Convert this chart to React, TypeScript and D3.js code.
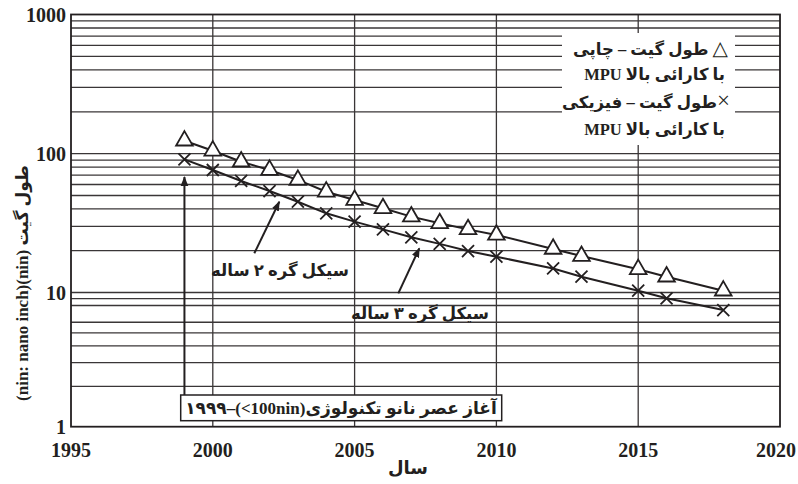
import React from "react";
import * as d3 from "d3";

// Years of the roadmap nodes
const years = [1999, 2000, 2001, 2002, 2003, 2004, 2005, 2006, 2007, 2008, 2009, 2010, 2012, 2013, 2015, 2016, 2018];
// Printed gate length (triangles)
const printedGate = [124, 105, 87.6, 76.3, 64.7, 53.2, 46.4, 40.4, 35.2, 31.5, 28.5, 26.0, 20.6, 18.3, 14.7, 13.0, 10.3];
// Physical gate length (crosses)
const physicalGate = [91.1, 76.3, 63.6, 53.8, 45.1, 37.2, 32.4, 28.5, 25.0, 22.4, 19.9, 18.1, 14.9, 13.0, 10.3, 9.05, 7.4];

const xTicks = [1995, 2000, 2005, 2010, 2015, 2020];
const yTicks = [1000, 100, 10, 1];
const yGrid = [900, 800, 700, 600, 500, 400, 300, 200, 100, 90, 80, 70, 60, 50, 40, 30, 20, 10, 9, 8, 6, 5, 4, 3, 2];

const legendSymbols = ["△", "", "×", ""];
const legendLines = [" طول گیت – چاپی", "با کارائی بالا MPU", "طول گیت – فیزیکی", "با کارائی بالا MPU"];
const label2yr = "سیکل گره ۲ ساله";
const label3yr = "سیکل گره ۳ ساله";
const startLabel = "۱۹۹۹–(<100nin)آغاز عصر نانو تکنولوژی";
const xTitle = "سال";
const yTitle = "(nin: nano inch)(nin) طول گیت";

const INK = "#231f20";
const FONT = "'Liberation Serif', 'DejaVu Sans', serif";

export default function App() {
  const left = 71, right = 780, top = 14.5, bottom = 426.7;
  const x = d3.scaleLinear().domain([1995, 2020]).range([left, right]);
  const y = d3.scaleLog().domain([1000, 100, 10, 1]).range([top, 153.7, 292.5, bottom]);

  const line = d3.line<[number, number]>().x(d => x(d[0])).y(d => y(d[1]));
  const triPts: [number, number][] = years.map((yr, i) => [yr, printedGate[i]]);
  const crossPts: [number, number][] = years.map((yr, i) => [yr, physicalGate[i]]);
  const tri = d3.symbol().type(d3.symbolTriangle).size(120)();

  const cross = (cx: number, cy: number, r: number) =>
    `M${cx - r},${cy - r}L${cx + r},${cy + r}M${cx - r},${cy + r}L${cx + r},${cy - r}`;

  return (
    <svg width={798} height={484} style={{ position: "absolute", left: 0, top: 0, background: "#fff" }}
      fontFamily={FONT} fontWeight="bold" fill={INK}>
      <defs>
        <marker id="ah" viewBox="0 0 10 10" refX="9" refY="5" markerWidth="10" markerHeight="10"
          markerUnits="userSpaceOnUse" orient="auto">
          <path d="M0,1.2L10,5L0,8.8Z" fill={INK} />
        </marker>
      </defs>
      <rect x={0} y={0} width={798} height={484} fill="#fff" />

      {/* horizontal grid */}
      {yGrid.map(v => (
        <line key={"h" + v} x1={left} x2={right} y1={y(v)} y2={y(v)} stroke="#3a3637" strokeWidth={1.3} />
      ))}
      {/* vertical grid */}
      {xTicks.slice(1, -1).map(v => (
        <line key={"v" + v} x1={x(v)} x2={x(v)} y1={top} y2={bottom} stroke="#3a3637" strokeWidth={1.3} />
      ))}
      {/* plot frame */}
      <rect x={left} y={top} width={right - left} height={bottom - top} fill="none" stroke={INK} strokeWidth={1.8} />

      {/* legend */}
      <rect x={562} y={33} width={173} height={112} fill="#fff" />
      {legendLines.map((t, i) => (
        <text key={"lg" + i} x={[728, 725, 730, 725][i]} y={[55, 80, 108, 135][i]} direction="rtl"
          textAnchor="start" fontSize={16.5}>
          {legendSymbols[i] && <tspan fontSize={i === 0 ? 20 : 23} fontWeight="normal">{legendSymbols[i]}</tspan>}
          {t}
        </text>
      ))}

      {/* series lines */}
      <path d={line(triPts) || ""} fill="none" stroke={INK} strokeWidth={2} />
      <path d={line(crossPts) || ""} fill="none" stroke={INK} strokeWidth={2} />
      {triPts.map((d, i) => (
        <path key={"t" + i} d={tri} transform={`translate(${x(d[0])},${y(d[1])})`} fill="#fff"
          stroke={INK} strokeWidth={1.8} />
      ))}
      {crossPts.map((d, i) => (
        <path key={"c" + i} d={cross(x(d[0]), y(d[1]), 6)} fill="none" stroke={INK} strokeWidth={1.8} />
      ))}

      {/* annotations */}
      <line x1={254.3} y1={253.3} x2={279.3} y2={201.7} stroke={INK} strokeWidth={2} markerEnd="url(#ah)" />
      <text x={280} y={276} textAnchor="middle" direction="rtl" fontSize={16.5}>{label2yr}</text>
      <line x1={398.3} y1={293.3} x2={419.3} y2={248.3} stroke={INK} strokeWidth={2} markerEnd="url(#ah)" />
      <text x={420} y={319} textAnchor="middle" direction="rtl" fontSize={16.5}>{label3yr}</text>
      <line x1={x(1999)} y1={395} x2={x(1999)} y2={177} stroke={INK} strokeWidth={2} markerEnd="url(#ah)" />
      <rect x={180.7} y={395} width={321} height={25.7} fill="#fff" stroke={INK} strokeWidth={1.5} />
      <text x={341} y={414} textAnchor="middle" direction="ltr" fontSize={17}>{startLabel}</text>

      {/* axes labels */}
      {yTicks.map(v => (
        <text key={"yt" + v} x={66} y={y(v)} dy="0.35em" textAnchor="end" fontSize={20}>{v}</text>
      ))}
      {xTicks.map((v, i) => {
        const last = i === xTicks.length - 1;
        return (
          <text key={"xt" + v} x={last ? 796 : x(v)} y={457} textAnchor={last ? "end" : "middle"} fontSize={20}>{v}</text>
        );
      })}
      <text x={408} y={474} textAnchor="middle" fontSize={18}>{xTitle}</text>
      <text transform="translate(28,283) rotate(-90)" textAnchor="middle" direction="ltr" fontSize={17}>{yTitle}</text>
    </svg>
  );
}
